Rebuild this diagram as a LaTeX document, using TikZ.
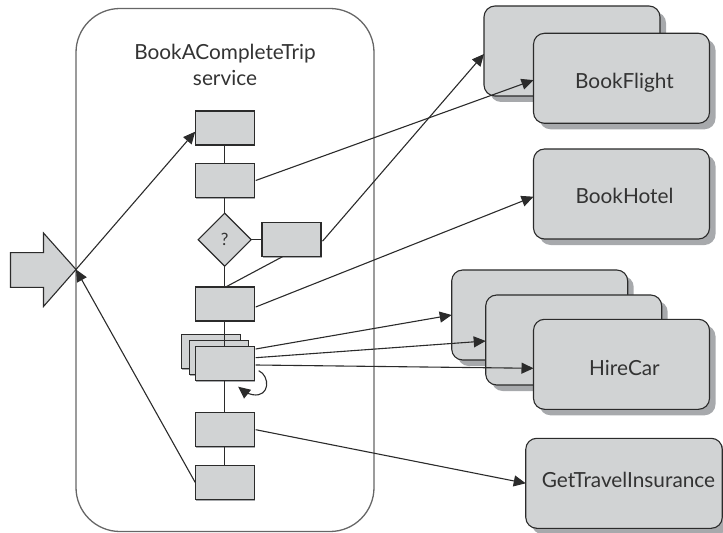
\documentclass[tikz,border=0pt]{standalone}
\usepackage{fontspec}
\setmainfont{Lato}
\usetikzlibrary{arrows.meta,shapes.geometric,shadows}
\definecolor{boxfill}{HTML}{D1D3D4}
\definecolor{boxshadow}{HTML}{A7A9AC}
\definecolor{boxline}{HTML}{2B2B2B}
\definecolor{txt}{HTML}{333333}
\newcommand{\svclabel}[3]{\hspace*{#1}\raisebox{#2}[0pt][0pt]{#3}}
\tikzset{
  shade1/.style={drop shadow={shadow xshift=1.2bp,shadow yshift=-1.2bp,fill=boxshadow,opacity=1}},
  shade2/.style={drop shadow={shadow xshift=6bp,shadow yshift=-6bp,fill=boxshadow,opacity=1}},
  flowbox/.style={shade1,draw=boxline,fill=boxfill,line width=1.1bp,minimum width=59bp,minimum height=34bp,inner sep=0pt,outer sep=0pt},
  svcbox/.style={shade2,draw=boxline,fill=boxfill,line width=1.1bp,rounded corners=11bp,minimum width=176bp,minimum height=90bp,inner sep=0pt,outer sep=0pt,text=txt,font=\fontsize{20.8bp}{24bp}\selectfont},
  decision/.style={diamond,aspect=1,draw=boxline,fill=boxfill,line width=1.1bp,minimum width=53bp,minimum height=53bp,inner sep=0pt,outer sep=0pt,text=txt,font=\fontsize{17bp}{20bp}\selectfont},
  link/.style={draw=boxline,line width=1.1bp},
  flow/.style={link,-{Triangle[length=12bp,width=11bp]}},
}
\begin{document}
\begin{tikzpicture}[x=1bp,y=-1bp]
\useasboundingbox (0,0) rectangle (723,533);
% service container
\node[draw=black!60,line width=1.3bp,rounded corners=44bp,minimum width=298bp,minimum height=523bp,inner sep=0pt] (container) at (225,270) {};
\node[text=txt,align=center,font=\fontsize{20.8bp}{26bp}\selectfont,inner sep=0pt] (title) at (225,65) {BookACompleteTrip\\service};
% block arrow
\coordinate (tip) at (76,269.5);
\draw[draw=boxline,fill=boxfill,line width=1.1bp,line join=miter] (10.5,252.7) -- (43.5,252.7) -- (43.5,233) -- (tip) -- (43.5,306.5) -- (43.5,287.3) -- (10.5,287.3) -- cycle;
% flow boxes
\node[flowbox] (b1) at (224.7,128) {};
\node[flowbox] (b2) at (224.7,180.5) {};
\node[decision] (dec) at (224.7,239.7) {?};
\node[flowbox] (side) at (291.5,239.7) {};
\node[flowbox] (b4) at (224.7,304) {};
\node[flowbox] (m3) at (210.7,351.5) {};
\node[flowbox] (m2) at (218.7,357.7) {};
\node[flowbox] (m1) at (224.7,363.7) {};
\node[flowbox] (b6) at (224.7,429.7) {};
\node[flowbox] (b7) at (224.7,482.4) {};
% flow lines
\draw[link] (b1) -- (b2);
\draw[link] (b2) -- (dec);
\draw[link] (dec) -- (b4);
\draw[link] (dec) -- (side);
\draw[link] (b4) -- (m1);
\draw[link] (m1) -- (b6);
\draw[link] (b6) -- (b7);
\draw[link] ([xshift=-9bp]side.south) -- ([xshift=1bp]b4.north);
% services
\node[svcbox] (flback) at (572,51) {};
\node[svcbox] (flight) at (621.5,78.3) {\svclabel{6bp}{-10.7bp}{BookFlight}};
\node[svcbox] (hotel) at (621.5,194) {\svclabel{6bp}{-10bp}{BookHotel}};
\node[svcbox] (carback) at (539.7,315) {};
\node[svcbox] (carmid) at (573.7,340) {};
\node[svcbox] (car) at (621.5,364.3) {\svclabel{6bp}{-11.4bp}{HireCar}};
\node[svcbox,minimum width=196.5bp] (ins) at (624,483.3) {\svclabel{9bp}{-4.4bp}{GetTravelInsurance}};
% connectors
\draw[flow] (tip) -- ([yshift=-3.7bp]b1.west);
\draw[flow] (b7.west) -- (tip);
\draw[flow] ([xshift=1.5bp]b2.east) -- ([yshift=-1.8bp]flight.west);
\draw[flow] ([xshift=1.5bp,yshift=-1.5bp]side.east) -- ([yshift=-3bp]flback.west);
\draw[flow] ([xshift=1.5bp,yshift=-3bp]b4.east) -- ([yshift=-2.7bp]hotel.west);
\draw[flow] ([xshift=1.5bp,yshift=14.7bp]m1.east) -- (carback.west);
\draw[flow] ([xshift=1.5bp,yshift=6bp]m1.east) -- ([yshift=-1bp]carmid.west);
\draw[flow] ([xshift=1.5bp,yshift=-1.3bp]m1.east) -- ([yshift=-4bp]car.west);
\draw[flow] ([xshift=1.5bp]b6.east) -- (ins.west);
% loop on the parallel step
\draw[link,-{Triangle[length=12bp,width=11bp]}] ([xshift=4.5bp,yshift=-7bp]m1.east) .. controls ([xshift=16bp,yshift=-12bp]m1.east) and ([xshift=16bp,yshift=-34bp]m1.east) .. ([xshift=-1.5bp,yshift=-31bp]m1.east) .. controls ([xshift=-7bp,yshift=-30bp]m1.east) and ([xshift=-11bp,yshift=-27bp]m1.east) .. ([xshift=-16bp,yshift=-23bp]m1.east);
\end{tikzpicture}
\end{document}
